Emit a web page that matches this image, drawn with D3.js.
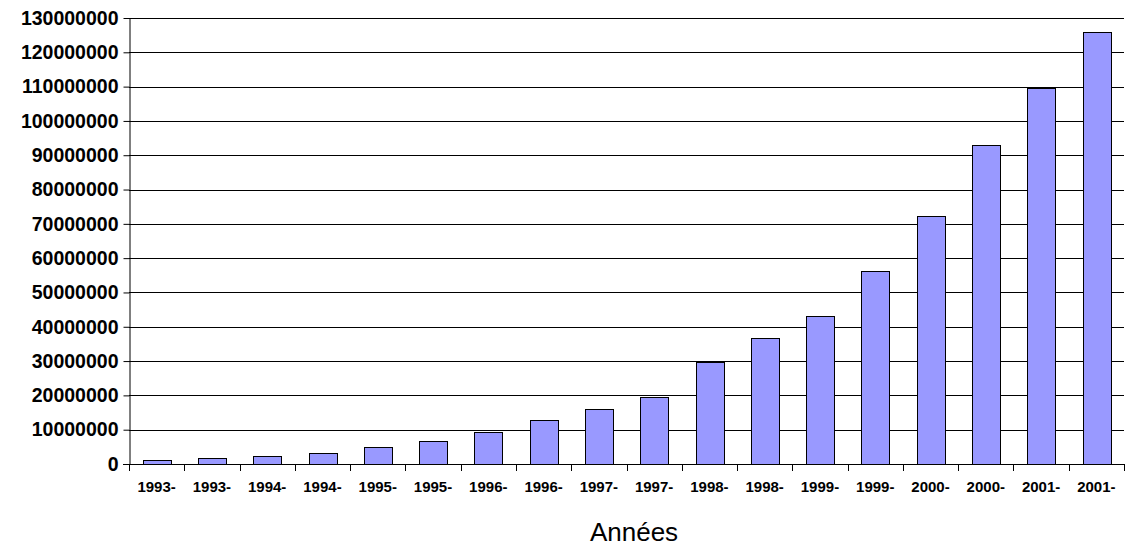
<!DOCTYPE html>
<html>
<head>
<meta charset="utf-8">
<script src="https://cdn.jsdelivr.net/npm/d3@7"></script>
<style>
  html, body { margin: 0; padding: 0; background: #fff; }
  svg { display: block; }
</style>
</head>
<body>
<svg id="chart" width="1127" height="548"></svg>
<script>
const categories = ["1993-","1993-","1994-","1994-","1995-","1995-","1996-","1996-","1997-","1997-","1998-","1998-","1999-","1999-","2000-","2000-","2001-","2001-"];
const values = [1300000,1776000,2217000,3212000,4852000,6642000,9472000,12881000,16146000,19540000,29670000,36739000,43230000,56218000,72398000,93047000,109574000,125888000];
const yTicks = [0,10000000,20000000,30000000,40000000,50000000,60000000,70000000,80000000,90000000,100000000,110000000,120000000,130000000];
const xTitle = "Années";

(function () {
const svg = d3.select("#chart");
const pLeft = 129, pRight = 1124, pTop = 18, pBottom = 464;

const x = d3.scaleBand().domain(d3.range(categories.length)).range([pLeft, pRight]).paddingInner(0.5).paddingOuter(0.25);
const y = d3.scaleLinear().domain([0, 130000000]).range([pBottom, pTop]);

// gridlines
svg.append("g").selectAll("line").data(yTicks.filter(d => d > 0)).join("line")
  .attr("x1", pLeft).attr("x2", pRight)
  .attr("y1", d => Math.round(y(d)) + 0.5).attr("y2", d => Math.round(y(d)) + 0.5)
  .attr("stroke", "#000").attr("stroke-width", 1);

// bars
svg.append("g").selectAll("rect").data(values).join("rect")
  .attr("x", (d, i) => Math.round(x(i)) + 0.5)
  .attr("y", d => Math.round(y(d)) + 0.5)
  .attr("width", Math.round(x.bandwidth()))
  .attr("height", d => Math.round(y(0)) - Math.round(y(d)))
  .attr("fill", "#9999FF").attr("stroke", "#000").attr("stroke-width", 1);

// y axis
const yAxis = svg.append("g").attr("transform", `translate(${pLeft + 0.5},0)`)
  .call(d3.axisLeft(y).tickValues(yTicks).tickFormat(d3.format("d")).tickSize(6).tickPadding(5).tickSizeOuter(0));
yAxis.select(".domain").attr("stroke", "#000");
yAxis.selectAll(".tick line").attr("stroke", "#000");
yAxis.selectAll("text").attr("font-family", "Liberation Sans, Arial, sans-serif")
  .attr("font-weight", "bold").attr("font-size", 19.5).attr("fill", "#000");

// x axis (ticks at category boundaries)
const bounds = d3.range(categories.length + 1).map(i => pLeft + i * (pRight - pLeft) / categories.length);
const xg = svg.append("g");
xg.append("line").attr("x1", pLeft - 6).attr("x2", pRight)
  .attr("y1", Math.round(y(0)) + 0.5).attr("y2", Math.round(y(0)) + 0.5).attr("stroke", "#000");
xg.selectAll("line.tk").data(bounds).join("line").attr("class", "tk")
  .attr("x1", d => Math.round(d) + 0.5).attr("x2", d => Math.round(d) + 0.5)
  .attr("y1", Math.round(y(0))).attr("y2", Math.round(y(0)) + 7).attr("stroke", "#000");
xg.selectAll("text").data(categories).join("text")
  .attr("x", (d, i) => x(i) + x.bandwidth() / 2)
  .attr("y", 492)
  .attr("text-anchor", "middle")
  .attr("font-family", "Liberation Sans, Arial, sans-serif")
  .attr("font-weight", "bold").attr("font-size", 15).attr("fill", "#000")
  .text(d => d);

svg.append("text").attr("x", 634).attr("y", 541).attr("text-anchor", "middle")
  .attr("font-family", "Liberation Sans, Arial, sans-serif").attr("font-size", 26).attr("fill", "#000")
  .text(xTitle);
})();
</script>
</body>
</html>
